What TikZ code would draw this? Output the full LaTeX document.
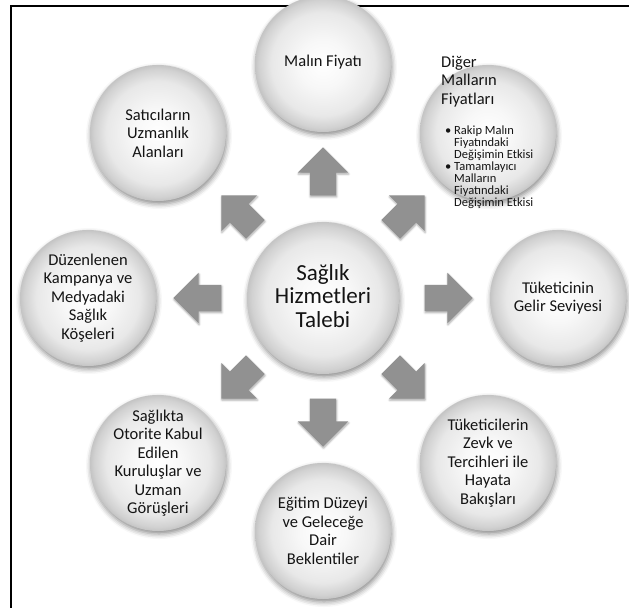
\documentclass[tikz,border=0pt]{standalone}
\usepackage{fontspec}
\setmainfont{Carlito}
\usetikzlibrary{shapes.arrows,shadows.blur,calc}
\pgfdeclareradialshading{ballshade}{\pgfpoint{0bp}{0bp}}{color(0bp)=(white); color(9bp)=(black!3); color(19bp)=(black!9); color(23.5bp)=(black!18); color(25bp)=(black!23); color(50bp)=(black!23)}
\definecolor{txtcol}{RGB}{20,20,20}
\definecolor{arrcol}{RGB}{145,145,145}
\begin{document}
\begin{tikzpicture}[x=1pt,y=1pt,
  ball/.style={circle, minimum size=136pt, inner sep=0pt, shading=ballshade,
    blur shadow={shadow xshift=1pt, shadow yshift=-3pt, shadow blur radius=5pt, shadow opacity=45}},
  hub/.style={ball, minimum size=152pt},
  txt/.style={align=center, inner sep=0pt, text=txtcol, font=\fontsize{16.5}{18.5}\selectfont},
  hubtxt/.style={txt, font=\fontsize{23}{23.5}\selectfont},
  blockarrow/.style={single arrow, minimum height=48pt, minimum width=0pt,
    inner xsep=0pt, inner ysep=13pt, single arrow head extend=12pt, fill=arrcol,
    blur shadow={shadow xshift=0.5pt, shadow yshift=-1.5pt, shadow blur radius=2pt, shadow opacity=35}}
]
\useasboundingbox (0,0) rectangle (629,-608);
\draw[line width=2pt] (10,-6) -- (629,-6);
\draw[line width=2.2pt] (11,-6) -- (11,-608);

\coordinate (C) at (323,-298);

% outer circles
\node[ball] (n1) at ($(C)+(0,234)$) {};
\node[ball] (n2) at ($(C)+(165,165)$) {};
\node[ball] (n3) at ($(C)+(235,0)$) {};
\node[ball] (n4) at ($(C)+(165,-165)$) {};
\node[ball] (n5) at ($(C)+(0,-233)$) {};
\node[ball] (n6) at ($(C)+(-165,-165)$) {};
\node[ball] (n7) at ($(C)+(-235,0)$) {};
\node[ball] (n8) at ($(C)+(-165,165)$) {};

% hub
\node[hub] (hub) at (C) {};

% arrows
\node[blockarrow, rotate=90]  (a1) at ($(hub.center)+(0,120)$) {};
\node[blockarrow, rotate=45]  (a2) at ($(hub.center)+(80,81)$) {};
\node[blockarrow, rotate=0]   (a3) at ($(hub.center)+(119,0)$) {};
\node[blockarrow, rotate=-45] (a4) at ($(hub.center)+(80,-79)$) {};
\node[blockarrow, rotate=-90] (a5) at ($(hub.center)+(0,-118)$) {};
\node[blockarrow, rotate=-135](a6) at ($(hub.center)+(-80,-79)$) {};
\node[blockarrow, rotate=180] (a7) at ($(hub.center)+(-119,0)$) {};
\node[blockarrow, rotate=135] (a8) at ($(hub.center)+(-80,81)$) {};

% texts
\node[hubtxt] (thub) at ($(hub.center)+(0,2)$) {Sağlık\\Hizmetleri\\Talebi};
\node[txt] (t1) at ($(n1.center)+(0,2)$) {Malın Fiyatı};
\node[txt, align=left, anchor=base west] (t2) at (441,-104) {Diğer\\Malların\\Fiyatları};
\node[txt, align=left, anchor=base west, font=\fontsize{12.5}{12}\selectfont] (t2b) at (445,-206)
  {\makebox[9pt][l]{•}Rakip Malın\\\hspace*{9pt}Fiyatındaki\\\hspace*{9pt}Değişimin Etkisi\\
   \makebox[9pt][l]{•}Tamamlayıcı\\\hspace*{9pt}Malların\\\hspace*{9pt}Fiyatındaki\\\hspace*{9pt}Değişimin Etkisi};
\node[txt] (t3) at (n3.center) {Tüketicinin\\Gelir Seviyesi};
\node[txt] (t4) at (n4.center) {Tüketicilerin\\Zevk ve\\Tercihleri ile\\Hayata\\Bakışları};
\node[txt] (t5) at (n5.center) {Eğitim Düzeyi\\ve Geleceğe\\Dair\\Beklentiler};
\node[txt] (t6) at (n6.center) {Sağlıkta\\Otorite Kabul\\Edilen\\Kuruluşlar ve\\Uzman\\Görüşleri};
\node[txt] (t7) at (n7.center) {Düzenlenen\\Kampanya ve\\Medyadaki\\Sağlık\\Köşeleri};
\node[txt] (t8) at (n8.center) {Satıcıların\\Uzmanlık\\Alanları};
\end{tikzpicture}
\end{document}
